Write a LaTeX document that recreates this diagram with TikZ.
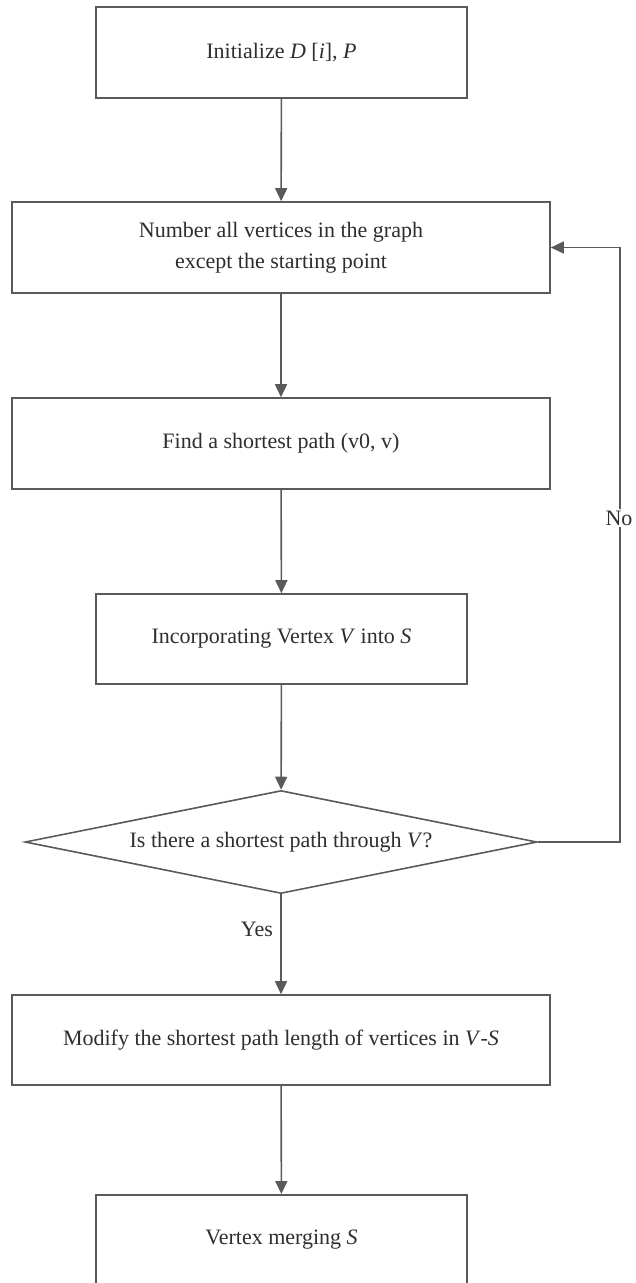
\documentclass[tikz,border=0pt]{standalone}
\usepackage{fontspec}
\setmainfont{Liberation Serif}
\usetikzlibrary{shapes.geometric,arrows.meta}
\definecolor{linegray}{HTML}{5A5A5A}
\definecolor{textgray}{HTML}{2E2E2E}
\begin{document}
\begin{tikzpicture}[x=1pt,y=-1pt,
  every node/.style={font=\fontsize{22}{31}\selectfont, text=textgray},
  procbox/.style={draw=linegray, line width=1.6pt, fill=white, inner sep=0pt, align=center},
  decision/.style={draw=linegray, line width=1.6pt, diamond, aspect=5, inner sep=0pt,
    minimum width=512pt, minimum height=103pt},
  flow/.style={draw=linegray, line width=1.6pt, -{Triangle[length=13pt,width=12pt]}},
  lbl/.style={font=\fontsize{22}{26}\selectfont}]
\useasboundingbox (0,0) rectangle (635,1283);
\clip (0,0) rectangle (635,1283);
% process boxes
\node[procbox, minimum width=371pt, minimum height=91pt] (init) at (281.5,52.5) {Initialize \textit{D} [\textit{i}], \textit{P}};
\node[procbox, minimum width=538pt, minimum height=91pt] (number) at (281,247.5) {Number all vertices in the graph\\except the starting point};
\node[procbox, minimum width=538pt, minimum height=91pt] (find) at (281,443.5) {Find a shortest path (v0, v)};
\node[procbox, minimum width=371pt, minimum height=90pt] (incorp) at (281.5,639) {Incorporating Vertex \textit{V} into \textit{S}};
\node[decision] (check) at (281,842) {Is there a shortest path through \textit{V}?};
\node[procbox, minimum width=538pt, minimum height=90pt] (modify) at (281,1040) {Modify the shortest path length of vertices in \textit{V}-\textit{S}};
\node[procbox, minimum width=371pt, minimum height=100pt, anchor=north] (merge) at (281.5,1194) {};
\node at (281.5,1240) {Vertex merging \textit{S}};
% main flow
\draw[flow] (init) -- (number);
\draw[flow] (number) -- (find);
\draw[flow] (find) -- (incorp);
\draw[flow] (incorp) -- (check);
\draw[flow] (check) -- node[lbl, left, pos=0.35, xshift=-4pt] {Yes} (modify);
\draw[flow] (modify) -- (merge);
% loop back when no shortest path is found
\coordinate (loopbot) at (620,842);
\coordinate (looptop) at (620,247.5);
\draw[flow] (check.east) -- (loopbot) -- (looptop) -- (number.east);
\node[lbl, fill=white, inner sep=2pt] (no) at (619,518) {No};
\end{tikzpicture}
\end{document}
